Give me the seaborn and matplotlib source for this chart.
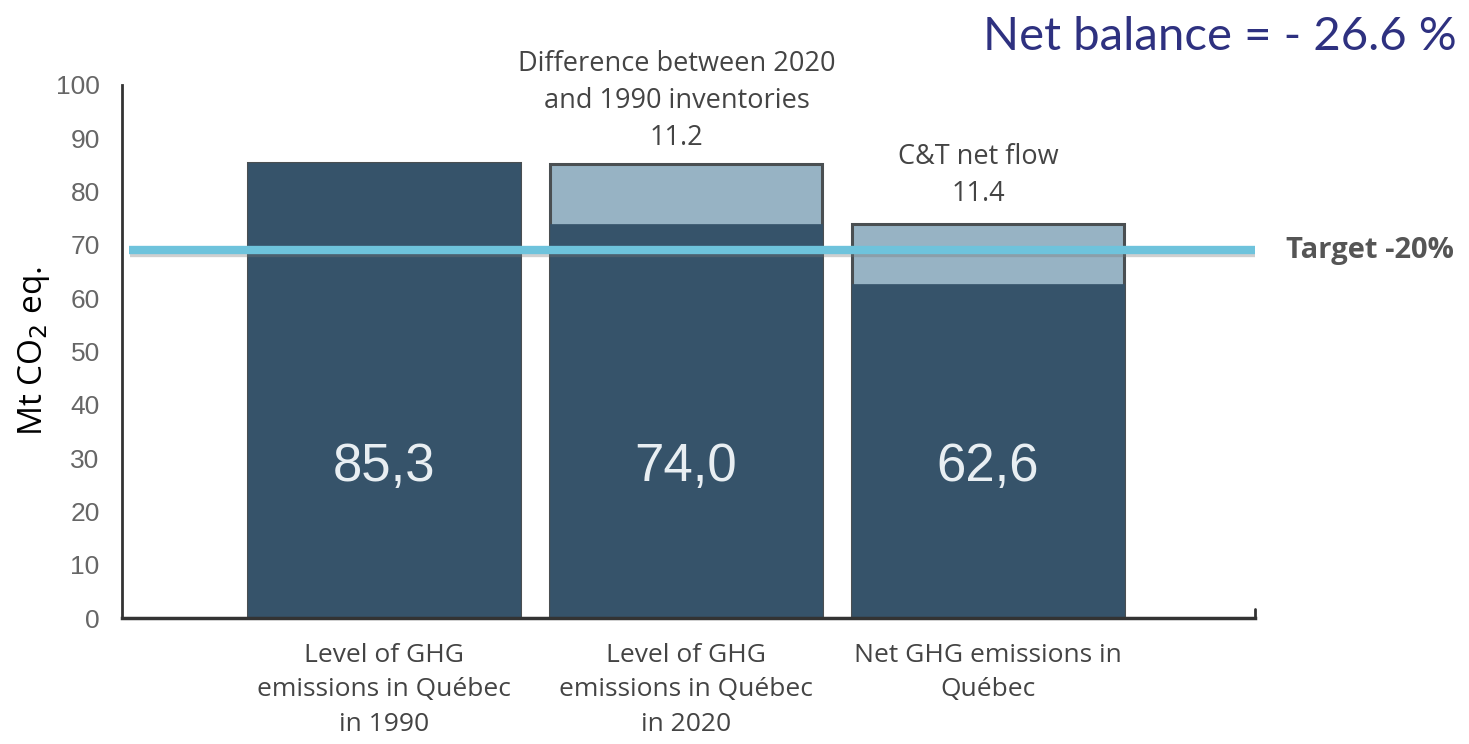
import matplotlib
matplotlib.use("Agg")
import matplotlib.pyplot as plt
import matplotlib.patheffects as pe
import seaborn as sns
import pandas as pd

categories = ["Level of GHG\nemissions in Québec\nin 1990",
              "Level of GHG\nemissions in Québec\nin 2020",
              "Net GHG emissions in\nQuébec"]
base_values = [85.3, 74.0, 62.6]
increments = [0.0, 11.2, 11.4]
value_labels = ["85,3", "74,0", "62,6"]
increment_titles = [None, "Difference between 2020\nand 1990 inventories\n11.2", "C&T net flow\n11.4"]
target_value = 69.0
yticks = [0, 10, 20, 30, 40, 50, 60, 70, 80, 90, 100]

sns.set_style("white")
plt.rcParams['font.family'] = ['Liberation Sans', 'DejaVu Sans']

df = pd.DataFrame({
    "category": categories,
    "base": base_values,
    "total": [b + i for b, i in zip(base_values, increments)],
})

fig = plt.figure(figsize=(14.69, 7.44), dpi=100)
ax = fig.add_axes([0.083, 0.169, 0.771, 0.717])

dark = "#36536a"
light = "#97b3c4"

sns.barplot(data=df, x="category", y="total", color=light, saturation=1,
            width=0.9, edgecolor="#4a4f52", linewidth=2.2, ax=ax, zorder=1)
sns.barplot(data=df, x="category", y="base", color=dark, saturation=1,
            width=0.9, edgecolor=dark, linewidth=0.5, ax=ax, zorder=2)

ax.set_xlim(-0.869, 2.884)
ax.set_ylim(0, 100)
ax.set_yticks(yticks)
ax.set_xlabel("")
ax.set_ylabel("Mt CO$_2$ eq.", fontsize=24, family=["Open Sans", "DejaVu Sans"],
              color="black")
ax.yaxis.set_label_coords(-0.062, 0.5)

for s in ["top", "right"]:
    ax.spines[s].set_visible(False)
ax.spines["left"].set_color("#333333")
ax.spines["left"].set_linewidth(2)
ax.spines["bottom"].set_color("#333333")
ax.spines["bottom"].set_linewidth(2.5)

ax.tick_params(axis="y", direction="in", length=12, width=2, color="#999999",
               labelsize=19, labelcolor="#666666", pad=16)
ax.tick_params(axis="x", length=0, pad=18)
for lab in ax.get_xticklabels():
    lab.set_family(["Open Sans", "DejaVu Sans"])
    lab.set_fontsize(19)
    lab.set_color("#444444")
    lab.set_linespacing(1.48)

# small end tick at the right of the x axis
ax.plot([1, 1], [0, 0.018], transform=ax.transAxes, color="#333333", lw=2,
        clip_on=False)

# target line
ax.axhline(target_value, xmin=0.006, xmax=1.0, color="#6ec3dc", lw=6, zorder=3,
           solid_capstyle="butt",
           path_effects=[pe.SimpleLineShadow(offset=(1, -2), shadow_color="#777777", alpha=0.35),
                         pe.Normal()])
ax.text(1.028, target_value, "Target -20%", transform=ax.get_yaxis_transform(),
        ha="left", va="center", fontsize=21, fontweight="bold", color="#555555",
        family=["Open Sans", "DejaVu Sans"])

# values inside bars
for i, (v, lab) in enumerate(zip(base_values, value_labels)):
    ax.text(i, 28.3, lab, ha="center", va="center", fontsize=38, color="#e8eef2", zorder=4)

# increment titles
title_offsets = [0, 2.2, 3.0]
for i, (b, inc, t, off) in enumerate(zip(base_values, increments, increment_titles, title_offsets)):
    if t:
        ax.text(i - 0.03, b + inc + off, t, ha="center", va="bottom", fontsize=19.5,
                color="#444444", linespacing=1.42, family=["Open Sans", "DejaVu Sans"])

fig.text(0.992, 0.950, "Net balance = - 26.6 %", ha="right", va="center",
         fontsize=34, color="#2e3180", family=["Lato", "DejaVu Sans"])

fig.savefig("out.png", dpi=100)
